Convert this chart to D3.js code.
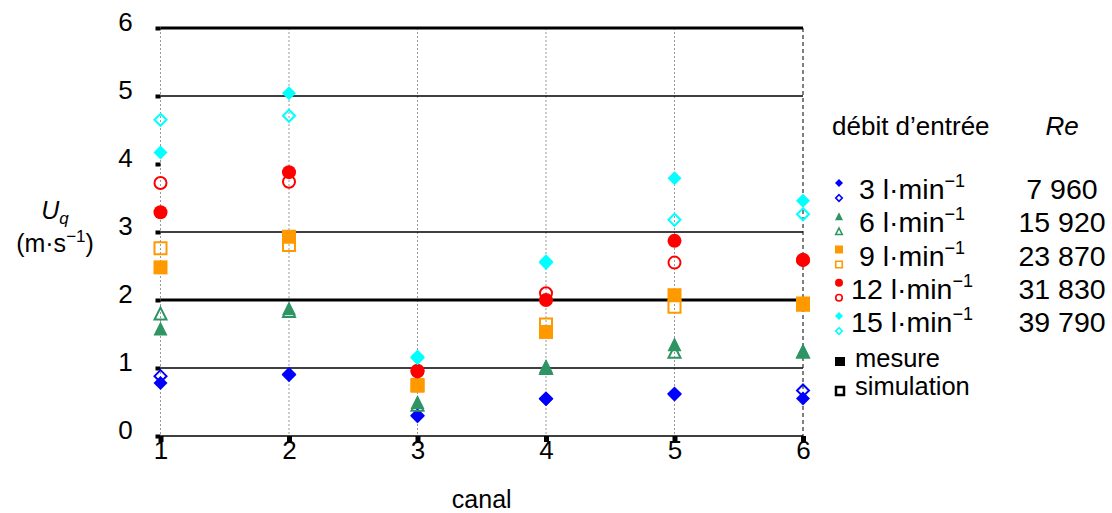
<!DOCTYPE html>
<html><head><meta charset="utf-8">
<script src="https://cdn.jsdelivr.net/npm/d3@7"></script>
<style>
html,body{margin:0;padding:0;background:#fff;}
svg{display:block;font-family:"Liberation Sans",Arial,sans-serif;}
</style></head>
<body>
<svg id="chart" width="1112" height="513"></svg>
<script>
// ---- data ----
const canals = [1, 2, 3, 4, 5, 6];
const yTicks = [0, 1, 2, 3, 4, 5, 6];
const gridLevels = [0, 1, 2, 3, 5, 6];
const flows = ["3", "6", "9", "12", "15"];
const reynolds = ["7 960", "15 920", "23 870", "31 830", "39 790"];
const colors = ["#0000ff", "#2e9463", "#ff9900", "#ff0000", "#00ffff"];
const shapes = ["diamond", "triangle", "square", "circle", "diamond"];

const measured3  = [0.78, 0.91, 0.29, 0.54, 0.61, 0.55];
const simulated3 = [0.88, 0.90, 0.30, 0.55, 0.62, 0.67];
const measured6  = [1.58, 1.88, 0.50, 1.03, 1.35, 1.25];
const simulated6 = [1.80, 1.84, 0.46, 1.00, 1.24, 1.24];
const measured9  = [2.48, 2.93, 0.75, 1.53, 2.07, 1.93];
const simulated9 = [2.76, 2.81, 0.74, 1.64, 1.90, 1.95];
const measured12  = [3.29, 3.88, 0.96, 2.00, 2.87, 2.59];
const simulated12 = [3.72, 3.74, 0.95, 2.10, 2.55, 2.59];
const measured15  = [4.17, 5.04, 1.17, 2.57, 3.79, 3.46];
const simulated15 = [4.65, 4.71, 1.15, 2.55, 3.18, 3.26];

const measured = [measured3, measured6, measured9, measured12, measured15];
const simulated = [simulated3, simulated6, simulated9, simulated12, simulated15];

// ---- setup ----
const FONT = "Liberation Sans, Arial, sans-serif";
const svg = d3.select("#chart");
const x = d3.scaleLinear().domain([1, 6]).range([160.5, 803]);
const y = d3.scaleLinear().domain([0, 6]).range([436, 28]);

// custom symbol types (size = full width in px)
const symTypes = {
  diamond: { draw(c, s) { const r = s / 2; c.moveTo(0, -r); c.lineTo(r, 0); c.lineTo(0, r); c.lineTo(-r, 0); c.closePath(); } },
  triangle: { draw(c, s) { const r = s / 2; c.moveTo(0, -r); c.lineTo(r, r); c.lineTo(-r, r); c.closePath(); } },
  square: { draw(c, s) { const r = s / 2; c.rect(-r, -r, s, s); } },
  circle: { draw(c, s) { const r = s / 2; c.moveTo(r, 0); c.arc(0, 0, r, 0, 2 * Math.PI); } }
};
const sym = (shape, size) => d3.symbol().type(symTypes[shape]).size(size)();

// ---- grid ----
const g = svg.append("g");
g.selectAll("line.v").data(canals).join("line")
  .attr("x1", d => x(d)).attr("x2", d => x(d))
  .attr("y1", y(6)).attr("y2", y(0))
  .attr("stroke", d => d === 6 ? "#000" : "#999")
  .attr("stroke-width", 1)
  .attr("stroke-dasharray", d => d === 6 ? "4,3" : "2,2");

g.selectAll("line.h").data(gridLevels).join("line")
  .attr("x1", x(1)).attr("x2", x(6))
  .attr("y1", d => y(d)).attr("y2", d => y(d))
  .attr("stroke", "#000")
  .attr("stroke-width", d => (d === 2 || d === 6) ? 3 : 1.6);

// axes
const xAxis = d3.axisBottom(x).tickValues(canals).tickFormat(d3.format("d")).tickSize(0).tickPadding(0);
const xa = svg.append("g").attr("transform", `translate(0,${y(0)})`).call(xAxis);
xa.select(".domain").remove();
xa.selectAll("text").attr("font-size", 26).attr("fill", "#000").attr("font-family", FONT)
  .attr("y", 23).attr("dy", 0);
xa.selectAll(".tick").append("rect").attr("x", -2.5).attr("y", 0).attr("width", 5).attr("height", 6).attr("fill", "#000");

const yAxis = d3.axisLeft(y).tickValues(yTicks).tickFormat(d3.format("d")).tickSize(0).tickPadding(0);
const ya = svg.append("g").attr("transform", `translate(${x(1)},0)`).call(yAxis);
ya.select(".domain").remove();
ya.selectAll("text").attr("font-size", 26).attr("fill", "#000").attr("font-family", FONT)
  .attr("text-anchor", "middle").attr("x", -35).attr("dy", 0).attr("y", 2);
ya.selectAll(".tick").append("rect").attr("x", -5).attr("y", -2).attr("width", 5).attr("height", 4).attr("fill", "#000");

// ---- markers ----
const marks = svg.append("g");
flows.forEach((f, i) => {
  marks.selectAll(null).data(simulated[i]).join("path")
    .attr("transform", (d, j) => `translate(${x(canals[j])},${y(d)})`)
    .attr("d", sym(shapes[i], 12))
    .attr("fill", "none").attr("stroke", colors[i]).attr("stroke-width", 2);
  marks.selectAll(null).data(measured[i]).join("path")
    .attr("transform", (d, j) => `translate(${x(canals[j])},${y(d)})`)
    .attr("d", sym(shapes[i], 14))
    .attr("fill", colors[i]);
});

// ---- axis titles ----
const yt = svg.append("text").attr("x", 55).attr("y", 219).attr("text-anchor", "middle").attr("font-size", 25);
yt.append("tspan").attr("font-style", "italic").text("U");
yt.append("tspan").attr("font-style", "italic").attr("font-size", 17).attr("dy", 5).text("q");
const yt2 = svg.append("text").attr("x", 55).attr("y", 252).attr("text-anchor", "middle").attr("font-size", 25);
yt2.append("tspan").text("(m·s");
yt2.append("tspan").attr("font-size", 17).attr("dy", -10).text("−1");
yt2.append("tspan").attr("dy", 10).text(")");

svg.append("text").attr("x", x(3.5)).attr("y", 508).attr("text-anchor", "middle").attr("font-size", 25).text("canal");

// ---- legend ----
const lg = svg.append("g");
lg.append("text").attr("x", 832).attr("y", 135).attr("font-size", 26).text("débit d’entrée");
lg.append("text").attr("x", 1062).attr("y", 135).attr("font-size", 26).attr("font-style", "italic").attr("text-anchor", "middle").text("Re");

const rowY = d3.scalePoint().domain(flows).range([199, 332]);
flows.forEach((f, i) => {
  const by = rowY(f);
  lg.append("path").attr("transform", `translate(839,${by - 16})`).attr("d", sym(shapes[i], 8)).attr("fill", colors[i]);
  lg.append("path").attr("transform", `translate(839,${by - 1})`).attr("d", sym(shapes[i], 6.5)).attr("fill", "none").attr("stroke", colors[i]).attr("stroke-width", 1.6);
  const t = lg.append("text").attr("x", 912).attr("y", by).attr("text-anchor", "middle").attr("font-size", 28.5);
  t.append("tspan").text(f + " l·min");
  t.append("tspan").attr("font-size", 18).attr("dy", -12).text("−1");
  lg.append("text").attr("x", 1062).attr("y", by).attr("text-anchor", "middle").attr("font-size", 28.5).text(reynolds[i]);
});
lg.append("rect").attr("x", 835).attr("y", 357).attr("width", 10).attr("height", 9).attr("fill", "#000");
lg.append("text").attr("x", 855).attr("y", 367).attr("font-size", 25.5).text("mesure");
lg.append("rect").attr("x", 836).attr("y", 387).attr("width", 8).attr("height", 8).attr("fill", "none").attr("stroke", "#000").attr("stroke-width", 2.5);
lg.append("text").attr("x", 855).attr("y", 395).attr("font-size", 25.5).text("simulation");
</script>
</body></html>
